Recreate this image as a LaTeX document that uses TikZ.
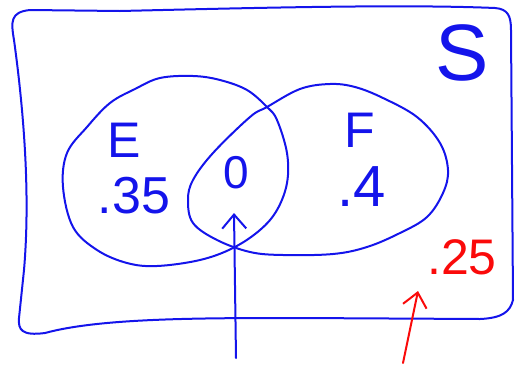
\documentclass[tikz,border=0pt]{standalone}
\usepackage{fontspec}
\setmainfont{Liberation Sans}
\usetikzlibrary{arrows.meta}
\definecolor{pen}{RGB}{20,20,235}
\definecolor{redpen}{RGB}{250,10,10}
\tikzset{
  ink/.style={draw=pen,line width=2pt,line cap=round,line join=round},
  redink/.style={draw=redpen,line width=2pt,line cap=round,line join=round},
  lbl/.style={text=pen,inner sep=0pt,anchor=base},
  barb/.style={-{Straight Barb[length=14pt,width=24pt,line width=2pt]}}
}
\begin{document}
\begin{tikzpicture}[x=1pt,y=-1pt]
\useasboundingbox (0,0) rectangle (515,365);
% sample space S
\draw[ink] (14,40) .. controls (11,22) and (10,12) .. (30,10)
  -- (120,11) .. controls (250,8) and (400,4) .. (495,8)
  .. controls (508,9) and (511,16) .. (511,30)
  -- (513,300) .. controls (510,312) and (502,318) .. (480,319)
  -- (300,318) .. controls (200,318) and (100,318) .. (45,333)
  .. controls (22,336) and (18,330) .. (19,318)
  -- (24,270) .. controls (30,200) and (25,120) .. (14,40);
% ellipse E
\draw[ink] plot[smooth cycle,tension=0.6] coordinates {
  (160,78) (193,76) (220,80) (247,90) (267,107) (277,120) (287,153) (287,183)
  (277,210) (260,230) (233,248) (200,260) (157,266) (127,263) (97,250)
  (73,227) (63,187) (67,153) (87,127) (110,103) (135,89)};
% ellipse F
\draw[ink] plot[smooth cycle,tension=0.6] coordinates {
  (330,84) (300,89) (267,107) (250,117) (213,153) (193,180) (188,200)
  (193,223) (217,240) (250,252) (283,255) (333,254) (367,247) (400,233)
  (427,217) (443,193) (448,170) (440,143) (417,117) (383,98) (355,87)};
% labels
\node[lbl,font=\fontsize{80}{80}\selectfont] (S) at (462,80) {S};
\node[lbl,font=\fontsize{50}{50}\selectfont] (E) at (124,157) {E};
\node[lbl,font=\fontsize{50}{50}\selectfont] (F) at (360,147) {F};
\node[lbl,font=\fontsize{52}{52}\selectfont] (pE) at (134,213) {.35};
\node[lbl,font=\fontsize{46}{46}\selectfont] (pEF) at (236,188) {0};
\node[lbl,font=\fontsize{58}{58}\selectfont] (pF) at (362,206) {.4};
\node[lbl,text=redpen,font=\fontsize{50}{50}\selectfont] (pN) at (462,274) {.25};
% arrows
\coordinate (a1s) at (236,358);
\coordinate (a1e) at (234,213);
\draw[ink,barb] (a1s) -- (a1e);
\coordinate (a2s) at (403,363);
\coordinate (a2e) at (418,291);
\draw[redink,barb] (a2s) -- (a2e);
\end{tikzpicture}
\end{document}
